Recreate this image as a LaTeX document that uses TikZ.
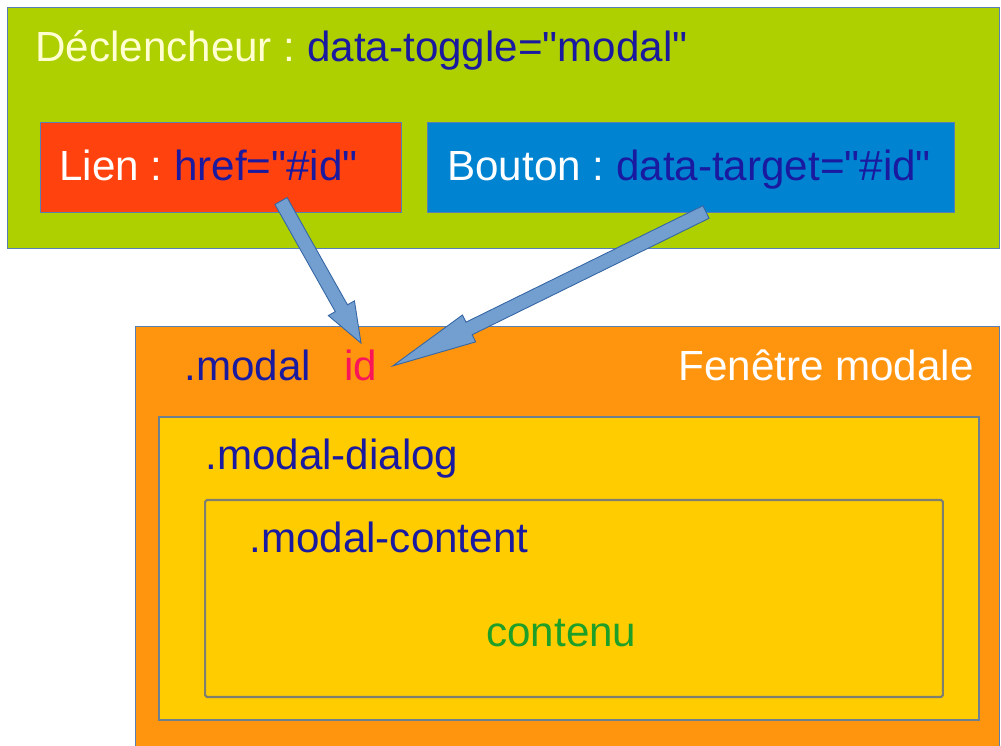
\documentclass[tikz,border=0pt]{standalone}
\usepackage{fontspec}
\setmainfont{Liberation Sans}[Ligatures=TeXOff]
\usetikzlibrary{calc,positioning}
\definecolor{vertfond}{HTML}{AECF00}
\definecolor{rougelien}{HTML}{FF420E}
\definecolor{bleubouton}{HTML}{0084D1}
\definecolor{orangemodal}{HTML}{FF950E}
\definecolor{jaunedialog}{HTML}{FFCC00}
\definecolor{bordbleu}{HTML}{5A7FB5}
\definecolor{bordgris}{RGB}{125,128,112}
\definecolor{marine}{RGB}{26,26,160}
\definecolor{creme}{HTML}{FFFFD2}
\definecolor{rose}{RGB}{250,20,90}
\definecolor{vertcontenu}{RGB}{30,160,40}
\definecolor{flechefond}{HTML}{729FCF}
\definecolor{flechebord}{HTML}{3465A4}
\tikzset{
  zone/.style={draw=bordbleu,line width=0.7pt,anchor=north west,inner sep=0pt},
  txt/.style={anchor=base west,inner sep=0pt,font=\fontsize{24}{29}\selectfont\frenchspacing},
  fleche/.style={fill=flechefond,draw=flechebord,line width=0.5pt,line join=miter},
}
% fleche pleine : depart, arrivee, longueur de la pointe
\newcommand\fleche[3]{%
  \coordinate (fb) at ($(#2)!#3!(#1)$);
  \filldraw[fleche] ($(#1)!0.14cm!90:(#2)$) -- ($(fb)!0.14cm!90:(#2)$) -- ($(fb)!0.3cm!90:(#2)$) -- (#2)
    -- ($(fb)!0.3cm!-90:(#2)$) -- ($(fb)!0.14cm!-90:(#2)$) -- ($(#1)!0.14cm!-90:(#2)$) -- cycle;}
\begin{document}
\begin{tikzpicture}[x=0.02cm,y=-0.02cm]
  \useasboundingbox (0,0) rectangle (1001,746);
  \clip (0,0) rectangle (1001,746);
  % declencheur
  \node[zone,fill=vertfond,minimum width=19.84cm,minimum height=4.82cm] (zonedecl) at (7,7) {};
  \node[zone,fill=rougelien,minimum width=7.22cm,minimum height=1.8cm] (zonelien) at (40,122) {};
  \node[zone,fill=bleubouton,minimum width=10.54cm,minimum height=1.8cm] (zonebouton) at (427,122) {};
  \node[txt,text=creme] (declencheur) at (35,62) {Déclencheur : \textcolor{marine}{data-toggle="modal"}};
  \node[txt,text=white] (lien) at (59,181) {Lien : \textcolor{marine}{href="\#id"}};
  \node[txt,text=white] (bouton) at (447,181) {Bouton : \textcolor{marine}{data-target="\#id"}};
  % fenetre modale
  \node[zone,fill=orangemodal,minimum width=17.28cm,minimum height=8.8cm] (zonemodal) at (135,326) {};
  \node[zone,fill=jaunedialog,draw=bordgris!50!bordbleu,line width=1pt,minimum width=16.4cm,minimum height=6.06cm] (zonedialog) at (158,416) {};
  \node[zone,draw=bordgris,line width=1.2pt,rounded corners=1pt,minimum width=14.76cm,minimum height=3.94cm] (zonecontent) at (204,499) {};
  \node[txt,text=marine] (modal) at (184,381) {.modal};
  \node[txt,anchor=base,inner sep=4pt,text=rose] (id) at (361,381) {id};
  \node[txt,text=white] (fenetre) at (678,381) {Fenêtre modale};
  \node[txt,text=marine] (dialog) at (205,470) {.modal-dialog};
  \node[txt,text=marine] (content) at (249,552) {.modal-content};
  \node[txt,text=vertcontenu] (contenu) at (486,646) {contenu};
  % fleches vers id
  \coordinate (lienpt) at (281,201);
  \coordinate (boutonpt) at (706,212);
  \coordinate (idcible) at ($(id.east)+(8,0)$);
  \fleche{lienpt}{id.north}{0.8cm}
  \fleche{boutonpt}{idcible}{1.7cm}
\end{tikzpicture}
\end{document}
